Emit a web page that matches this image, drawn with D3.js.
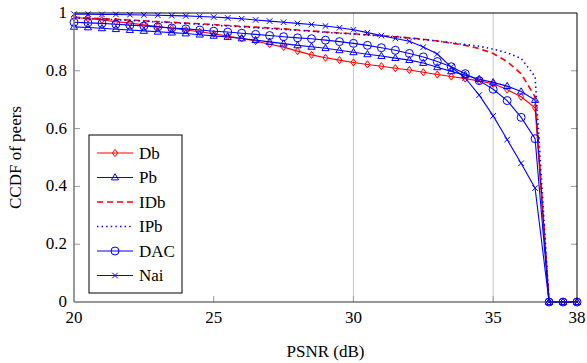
<!DOCTYPE html>
<html>
<head>
<meta charset="utf-8">
<script src="https://cdn.jsdelivr.net/npm/d3@7"></script>
<style>
  body { margin: 0; background: #fff; }
</style>
</head>
<body>
<div id="chart"></div>
<script>
// PSNR grid, every 0.5 dB from 20 to 38
const psnr = [20, 20.5, 21, 21.5, 22, 22.5, 23, 23.5, 24, 24.5, 25, 25.5, 26, 26.5, 27, 27.5, 28, 28.5,
  29, 29.5, 30, 30.5, 31, 31.5, 32, 32.5, 33, 33.5, 34, 34.5, 35, 35.5, 36, 36.5, 37, 37.5, 38];

const db = [.985, .981, .976, .970, .965, .959, .953, .947, .941, .935, .928, .920, .912, .903, .892, .882, .868, .855,
  .845, .837, .829, .822, .816, .809, .803, .795, .787, .780, .773, .765, .755, .735, .710, .672, 0, 0, 0];
const pb = [.952, .950, .947, .944, .941, .938, .935, .932, .929, .925, .921, .917, .912, .906, .900, .894, .888, .883,
  .878, .871, .864, .857, .851, .844, .837, .827, .812, .798, .785, .771, .760, .747, .728, .699, 0, 0, 0];
const idb = [.985, .983, .980, .978, .976, .973, .970, .968, .965, .963, .960, .957, .954, .951, .948, .945, .941, .938,
  .934, .931, .928, .925, .921, .918, .914, .909, .903, .896, .888, .877, .860, .832, .790, .710, 0, 0, 0];
const ipb = [.983, .981, .979, .977, .974, .972, .969, .966, .964, .961, .958, .955, .952, .949, .946, .943, .940, .937,
  .933, .930, .927, .924, .920, .917, .913, .908, .903, .897, .891, .885, .875, .862, .843, .780, 0, 0, 0];
const dac = [.968, .966, .964, .961, .958, .955, .952, .948, .945, .941, .937, .934, .930, .926, .922, .918, .914, .911,
  .906, .901, .895, .888, .880, .871, .860, .848, .832, .814, .790, .766, .736, .697, .639, .565, 0, 0, 0];
const nai = [.996, .996, .995, .995, .994, .993, .992, .991, .990, .988, .986, .983, .980, .976, .972, .968, .964, .960,
  .955, .949, .942, .932, .922, .912, .902, .882, .858, .813, .775, .716, .644, .562, .480, .394, 0, 0, 0];

const xTicks = [20, 25, 30, 35, 38];
const yTicks = [0, 0.2, 0.4, 0.6, 0.8, 1];
const gridX = [30, 35];

const series = [
  { name: 'Db', values: db, color: '#ff0000', marker: 'diamond', dash: null },
  { name: 'Pb', values: pb, color: '#0000ff', marker: 'triangle', dash: null },
  { name: 'IDb', values: idb, color: '#ff0000', marker: null, dash: '6,4' },
  { name: 'IPb', values: ipb, color: '#0000ff', marker: null, dash: '1.4,3.2' },
  { name: 'DAC', values: dac, color: '#0000ff', marker: 'circle', dash: null },
  { name: 'Nai', values: nai, color: '#0000ff', marker: 'cross', dash: null }
];

const margin = { top: 13, right: 10, bottom: 61, left: 74 };
const W = 587, H = 363;
const width = W - margin.left - margin.right;
const height = H - margin.top - margin.bottom;

const svg = d3.select('#chart')
  .append('svg')
  .attr('width', W)
  .attr('height', H)
  .attr('font-family', '"Liberation Serif", "Times New Roman", Tinos, "Noto Serif", "DejaVu Serif", Times, serif')
  .append('g')
  .attr('transform', `translate(${margin.left},${margin.top})`);

const x = d3.scaleLinear().domain([20, 38]).range([0, width]);
const y = d3.scaleLinear().domain([0, 1]).range([height, 0]);

// grid lines
svg.selectAll('.grid')
  .data(gridX)
  .enter()
  .append('line')
  .attr('x1', d => x(d)).attr('x2', d => x(d))
  .attr('y1', 0).attr('y2', height)
  .attr('stroke', '#c8c8c8')
  .attr('stroke-width', 1);

// tick marks (inside)
svg.selectAll('.xtick')
  .data(xTicks.slice(1, -1))
  .enter()
  .append('line')
  .attr('x1', d => x(d)).attr('x2', d => x(d))
  .attr('y1', height).attr('y2', height - 6)
  .attr('stroke', '#999')
  .attr('stroke-width', 1);

const ytickInner = yTicks.slice(1, -1);
svg.selectAll('.ytickL')
  .data(ytickInner)
  .enter()
  .append('line')
  .attr('x1', 0).attr('x2', 6)
  .attr('y1', d => y(d)).attr('y2', d => y(d))
  .attr('stroke', '#999');
svg.selectAll('.ytickR')
  .data(ytickInner)
  .enter()
  .append('line')
  .attr('x1', width).attr('x2', width - 6)
  .attr('y1', d => y(d)).attr('y2', d => y(d))
  .attr('stroke', '#999');

// tick labels
svg.selectAll('.xlab')
  .data(xTicks)
  .enter()
  .append('text')
  .attr('x', d => x(d))
  .attr('y', height + 21)
  .attr('text-anchor', 'middle')
  .attr('font-size', 17)
  .text(d => d);

svg.selectAll('.ylab')
  .data(yTicks)
  .enter()
  .append('text')
  .attr('x', -7)
  .attr('y', d => y(d) + 5)
  .attr('text-anchor', 'end')
  .attr('font-size', 17)
  .text(d => d);

// axis titles
svg.append('text')
  .attr('x', width / 2)
  .attr('y', height + 55)
  .attr('text-anchor', 'middle')
  .attr('font-size', 17)
  .text('PSNR (dB)');

svg.append('text')
  .attr('transform', `translate(-53,${height / 2}) rotate(-90)`)
  .attr('text-anchor', 'middle')
  .attr('font-size', 17)
  .text('CCDF of peers');

// markers
function drawMarker(g, type, color) {
  if (type === 'diamond') {
    g.append('path').attr('d', 'M0,-3.6L2.6,0L0,3.6L-2.6,0Z')
      .attr('fill', 'none').attr('stroke', color).attr('stroke-width', 1);
  } else if (type === 'triangle') {
    g.append('path').attr('d', 'M0,-3.8L3.6,2.4L-3.6,2.4Z')
      .attr('fill', 'none').attr('stroke', color).attr('stroke-width', 1);
  } else if (type === 'circle') {
    g.append('circle').attr('r', 4)
      .attr('fill', 'none').attr('stroke', color).attr('stroke-width', 1);
  } else if (type === 'cross') {
    g.append('path').attr('d', 'M-2.8,-2.8L2.8,2.8M-2.8,2.8L2.8,-2.8')
      .attr('stroke', color).attr('stroke-width', 1);
  }
}

const line = d3.line()
  .x((d, i) => x(psnr[i]))
  .y(d => y(d));

series.forEach(s => {
  svg.append('path')
    .attr('d', line(s.values))
    .attr('fill', 'none')
    .attr('stroke', s.color)
    .attr('stroke-width', s.dash ? 1.6 : 1.1)
    .attr('stroke-dasharray', s.dash);

  if (s.marker) {
    s.values.forEach((v, i) => {
      const g = svg.append('g').attr('transform', `translate(${x(psnr[i])},${y(v)})`);
      drawMarker(g, s.marker, s.color);
    });
  }
});

// frame
svg.append('line').attr('x1', 0).attr('x2', width).attr('y1', 0).attr('y2', 0)
  .attr('stroke', '#000').attr('stroke-width', 1);
svg.append('line').attr('x1', width).attr('x2', width).attr('y1', 0).attr('y2', height)
  .attr('stroke', '#000').attr('stroke-width', 1);
svg.append('line').attr('x1', 0).attr('x2', width).attr('y1', height).attr('y2', height)
  .attr('stroke', '#333').attr('stroke-width', 1.2);
svg.append('line').attr('x1', 0).attr('x2', 0).attr('y1', 0).attr('y2', height)
  .attr('stroke', '#808080').attr('stroke-width', 1.6);

// legend
const legend = svg.append('g').attr('transform', 'translate(15,122)');
legend.append('rect')
  .attr('width', 93).attr('height', 158)
  .attr('fill', '#fff').attr('stroke', '#000').attr('stroke-width', 1);

series.forEach((s, i) => {
  const ly = 18 + i * 24.5;
  legend.append('line')
    .attr('x1', 8).attr('x2', 44)
    .attr('y1', ly).attr('y2', ly)
    .attr('stroke', s.color)
    .attr('stroke-width', s.dash ? 1.6 : 1.1)
    .attr('stroke-dasharray', s.dash);
  if (s.marker) {
    const g = legend.append('g').attr('transform', `translate(26,${ly})`);
    drawMarker(g, s.marker, s.color);
  }
  legend.append('text')
    .attr('x', 50)
    .attr('y', ly + 5.5)
    .attr('font-size', 17)
    .text(s.name);
});
</script>
</body>
</html>
